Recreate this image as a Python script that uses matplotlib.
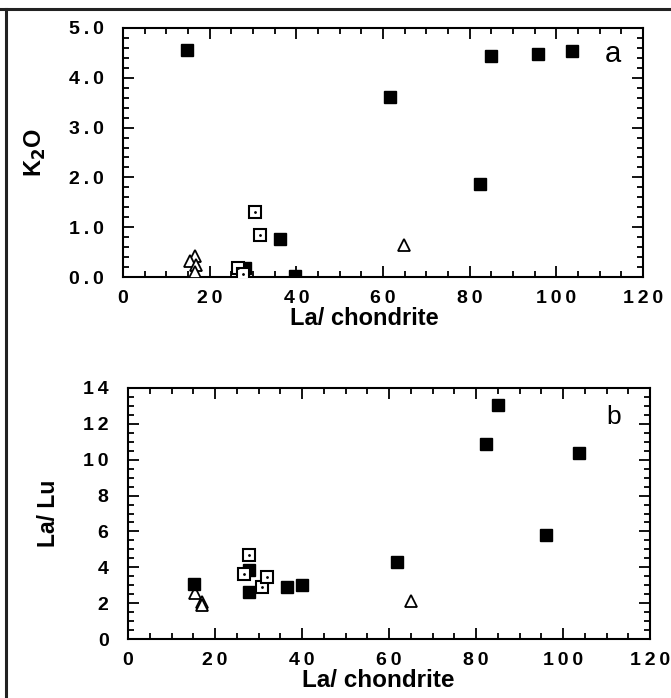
import numpy as np
from matplotlib import pyplot as plt
from matplotlib.ticker import MultipleLocator, FuncFormatter

# panel a: K2O vs La/chondrite
a_filled_x = [14.8, 61.6, 82.4, 84.9, 95.8, 103.7, 36.2, 39.8, 28.2]
a_filled_y = [4.56, 3.62, 1.87, 4.44, 4.48, 4.54, 0.76, 0.02, 0.19]
a_open_x = [30.5, 31.7, 26.5, 27.8]
a_open_y = [1.30, 0.84, 0.19, 0.06]
a_tri_x = [16.7, 15.5, 16.8, 16.7, 64.8]
a_tri_y = [0.42, 0.33, 0.24, 0.11, 0.64]

# panel b: La/Lu vs La/chondrite
b_filled_x = [15.2, 27.8, 27.8, 36.5, 39.9, 61.9, 82.3, 85.0, 103.7, 96.0]
b_filled_y = [3.05, 3.85, 2.64, 2.90, 3.01, 4.28, 10.86, 13.05, 10.39, 5.80]
b_open_x = [27.9, 26.7, 30.8, 31.9]
b_open_y = [4.68, 3.60, 2.90, 3.46]
b_tri_x = [15.5, 16.9, 16.9, 65.0]
b_tri_y = [2.55, 2.05, 1.90, 2.12]

plt.rcParams['font.family'] = ['Liberation Sans', 'DejaVu Sans']
plt.rcParams['font.weight'] = 'bold'

fig = plt.figure(figsize=(6.71, 6.98), dpi=100)

# frame lines along top and left of the figure
fig.add_artist(plt.Line2D([0, 1], [1 - 9/698, 1 - 9/698], color='#222222', lw=2.2, transform=fig.transFigure))
fig.add_artist(plt.Line2D([6/671, 6/671], [0, 1 - 9/698], color='#222222', lw=2.2, transform=fig.transFigure))


def spaced(fmt):
    # the original tick labels are letter-spaced
    return FuncFormatter(lambda v, pos: '\u2009'.join(fmt % v))


def style_axis(ax, ymax, ymajor, yminor, yfmt):
    ax.set_xlim(0, 120)
    ax.set_ylim(0, ymax)
    ax.xaxis.set_major_locator(MultipleLocator(20))
    ax.xaxis.set_minor_locator(MultipleLocator(5))
    ax.yaxis.set_major_locator(MultipleLocator(ymajor))
    ax.yaxis.set_minor_locator(MultipleLocator(yminor))
    ax.xaxis.set_major_formatter(spaced('%d'))
    ax.yaxis.set_major_formatter(spaced(yfmt))
    ax.tick_params(which='both', direction='in', top=True, right=True, width=1.3, labelsize=14)
    ax.tick_params(axis='x', which='both', pad=9.5)
    ax.tick_params(axis='y', which='both', pad=14)
    ax.tick_params(which='major', length=8)
    ax.tick_params(which='minor', length=4.5)
    for s in ax.spines.values():
        s.set_linewidth(1.5)


def draw_points(ax, fx, fy, ox, oy, tx, ty):
    ax.plot(tx, ty, linestyle='none', marker='^', markersize=8, markerfacecolor='white',
            markeredgecolor='black', markeredgewidth=1.3, zorder=3)
    ax.plot(fx, fy, linestyle='none', marker='s', markersize=8.2, color='black', zorder=4)
    ax.plot(ox, oy, linestyle='none', marker='s', markersize=8.2, markerfacecolor='white',
            markeredgecolor='black', markeredgewidth=1.5, zorder=5)
    ax.plot(ox, oy, linestyle='none', marker='.', markersize=2, color='black', zorder=6)


ax1 = fig.add_axes([123/671, 1 - 277/698, 520/671, 249/698])
draw_points(ax1, a_filled_x, a_filled_y, a_open_x, a_open_y, a_tri_x, a_tri_y)
style_axis(ax1, 5.0, 1.0, 0.2, '%.1f')
ax1.set_xlabel('La/ chondrite', fontsize=17, fontweight='bold', va='top')
ax1.xaxis.set_label_coords(0.465, -0.122)
ax1.set_ylabel('K$_\\mathbf{2}$O', fontsize=17, fontweight='bold')
ax1.yaxis.set_label_coords(-0.145, 0.5)
ax1.text(0.942, 0.896, 'a', transform=ax1.transAxes, fontsize=21, fontweight='normal',
         ha='center', va='center')

ax2 = fig.add_axes([128/671, 1 - 639/698, 522/671, 251/698])
draw_points(ax2, b_filled_x, b_filled_y, b_open_x, b_open_y, b_tri_x, b_tri_y)
style_axis(ax2, 14, 2, 0.5, '%d')
ax2.set_xlabel('La/ chondrite', fontsize=17.5, fontweight='bold', va='top')
ax2.xaxis.set_label_coords(0.48, -0.118)
ax2.set_ylabel('La/ Lu', fontsize=16.5, fontweight='bold')
ax2.yaxis.set_label_coords(-0.13, 0.5)
ax2.text(0.931, 0.884, 'b', transform=ax2.transAxes, fontsize=19, fontweight='normal',
         ha='center', va='center')

fig.savefig('out.png', dpi=100)
